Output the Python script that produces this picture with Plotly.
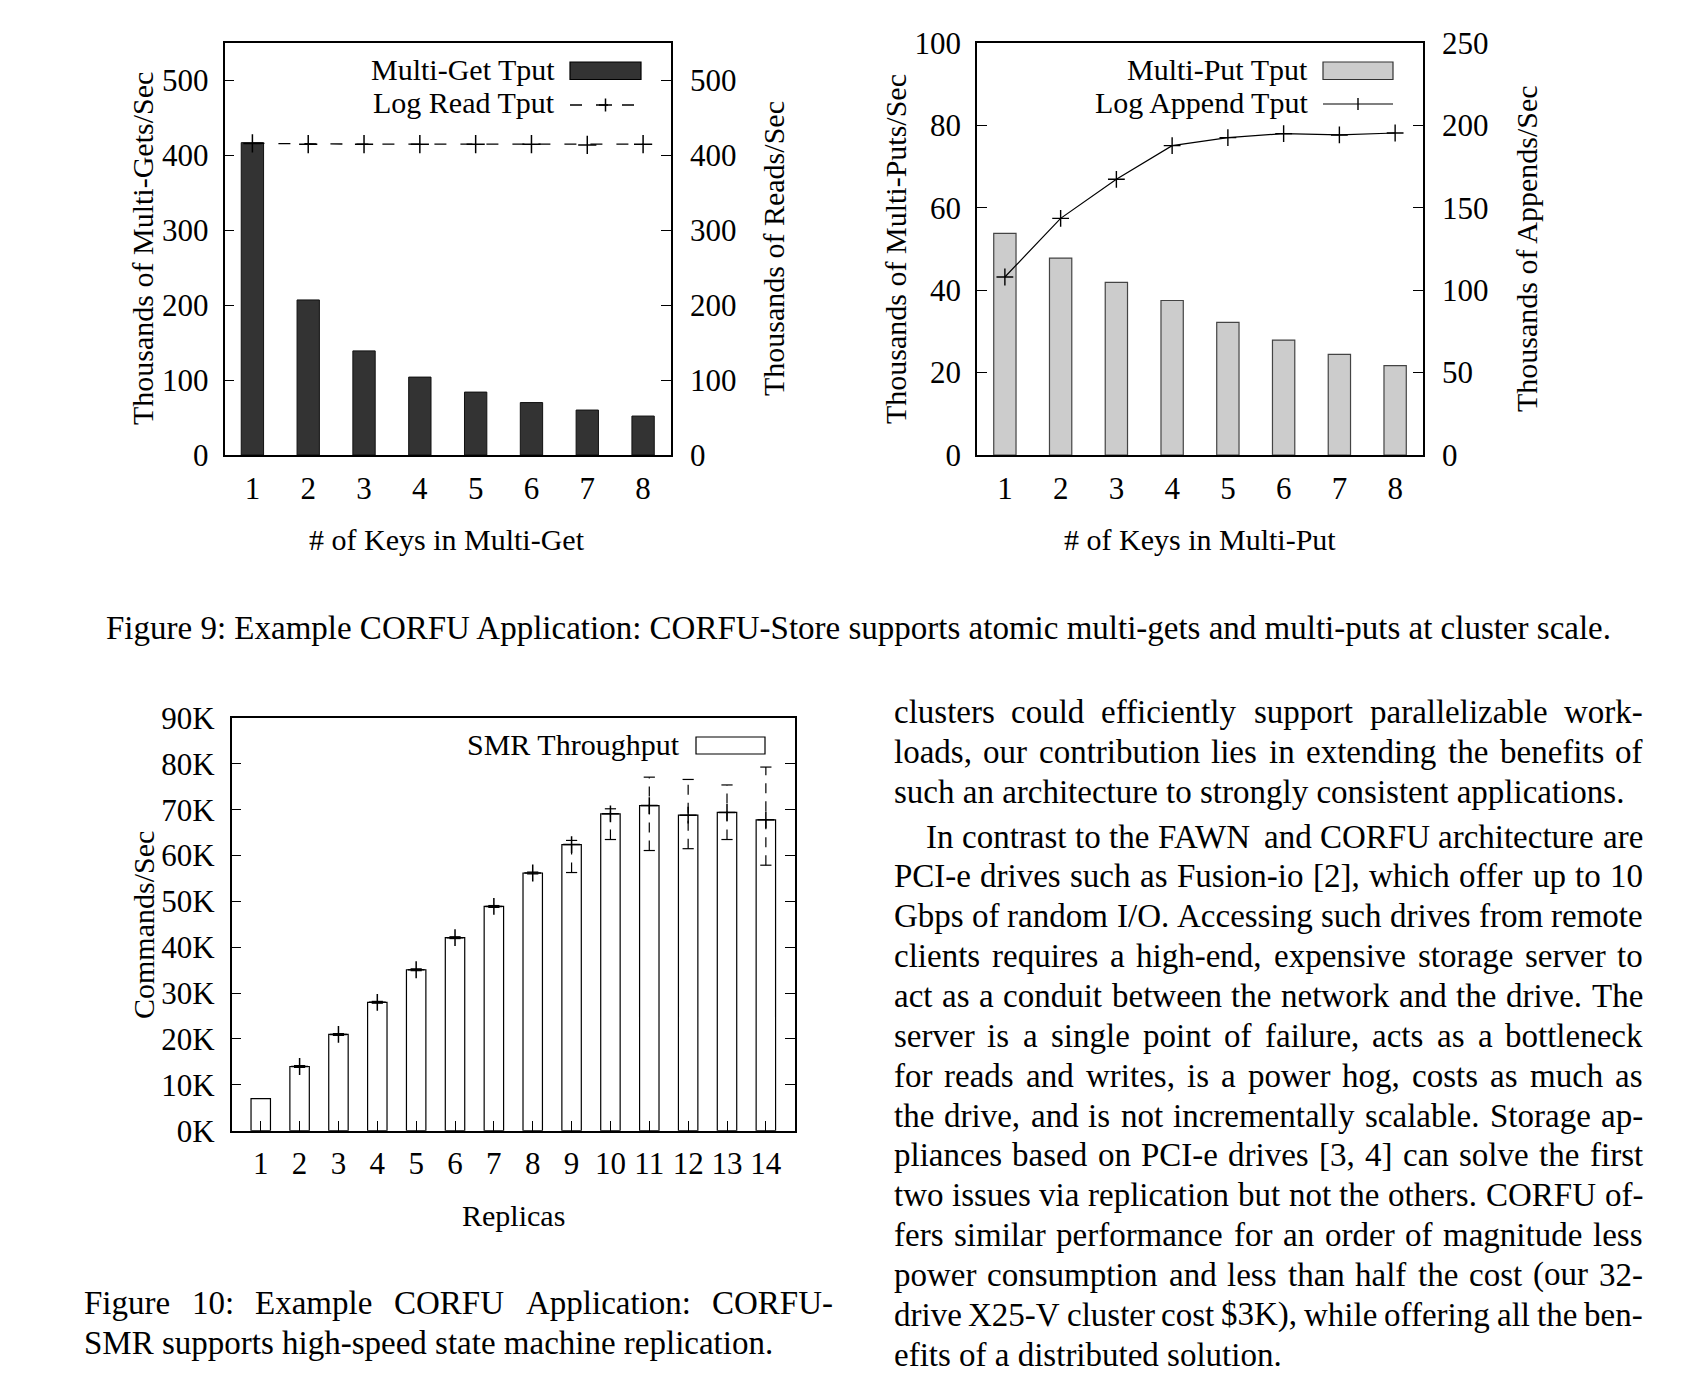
import plotly.graph_objects as go

W, H = 1684, 1380
FONT = "Liberation Serif"
FS_CHART = 30
FS_TICK = 31
FS_TEXT = 33

# ---------------- data ----------------
keys = [1, 2, 3, 4, 5, 6, 7, 8]
multiget_tput = [417, 207, 139, 104, 84, 70, 60, 52]
logread_tput = [416, 415, 415, 415, 415, 415, 414, 415]
multiput_tput = [53.8, 47.8, 41.9, 37.5, 32.2, 27.9, 24.4, 21.7]
logappend_tput = [108, 143.6, 167.3, 187.7, 192.6, 195.0, 194.2, 195.4]

replicas = list(range(1, 15))
smr_tput = [7.0, 14.0, 21.0, 28.0, 35.1, 42.1, 48.9, 56.2, 62.4, 69.1, 70.9, 68.8, 69.4, 67.8]
smr_low = [None, 13.8, 20.8, 27.8, 34.9, 41.9, 48.7, 56.0, 56.3, 63.5, 61.1, 61.5, 63.5, 57.9]
smr_high = [None, 14.2, 21.2, 28.2, 35.3, 42.3, 49.1, 56.4, 63.3, 70.2, 77.1, 76.6, 75.4, 79.3]

left_ticks_1 = [0, 100, 200, 300, 400, 500]
left_ticks_2 = [0, 20, 40, 60, 80, 100]
right_ticks_2 = [0, 50, 100, 150, 200, 250]
ticks_3 = [0, 10, 20, 30, 40, 50, 60, 70, 80, 90]

body_lines = [
    ("clusters could efficiently support parallelizable work-", True, False),
    ("loads, our contribution lies in extending the benefits of", True, False),
    ("such an architecture to strongly consistent applications.", False, False),
    ("In contrast to the FAWN and CORFU architecture are", True, True),
    ("PCI-e drives such as Fusion-io [2], which offer up to 10", True, False),
    ("Gbps of random I/O. Accessing such drives from remote", True, False),
    ("clients requires a high-end, expensive storage server to", True, False),
    ("act as a conduit between the network and the drive. The", True, False),
    ("server is a single point of failure, acts as a bottleneck", True, False),
    ("for reads and writes, is a power hog, costs as much as", True, False),
    ("the drive, and is not incrementally scalable. Storage ap-", True, False),
    ("pliances based on PCI-e drives [3, 4] can solve the first", True, False),
    ("two issues via replication but not the others. CORFU of-", True, False),
    ("fers similar performance for an order of magnitude less", True, False),
    ("power consumption and less than half the cost (our 32-", True, False),
    ("drive X25-V cluster cost $3K), while offering all the ben-", True, False),
    ("efits of a distributed solution.", False, False),
]
caption9 = "Figure 9: Example CORFU Application: CORFU-Store supports atomic multi-gets and multi-puts at cluster scale."
caption10 = ["Figure 10: Example CORFU Application: CORFU-",
             "SMR supports high-speed state machine replication."]

# ---------------- helpers ----------------
def px(x):
    return x / W

def py(y):
    return 1 - y / H

CW = {' ': 250, '!': 333, '#': 500, '$': 500, '(': 333, ')': 333, ',': 250, '-': 333, '.': 250,
      '/': 278, ':': 278, ';': 278, '[': 333, ']': 333,
      'A': 722, 'B': 667, 'C': 667, 'D': 722, 'E': 611, 'F': 556, 'G': 722, 'H': 722, 'I': 333,
      'J': 389, 'K': 722, 'L': 611, 'M': 889, 'N': 722, 'O': 722, 'P': 556, 'Q': 722, 'R': 667,
      'S': 556, 'T': 611, 'U': 722, 'V': 722, 'W': 944, 'X': 722, 'Y': 722, 'Z': 611,
      'a': 444, 'b': 500, 'c': 444, 'd': 500, 'e': 444, 'f': 333, 'g': 500, 'h': 500, 'i': 278,
      'j': 278, 'k': 500, 'l': 278, 'm': 778, 'n': 500, 'o': 500, 'p': 500, 'q': 500, 'r': 333,
      's': 389, 't': 278, 'u': 500, 'v': 500, 'w': 722, 'x': 500, 'y': 500, 'z': 444}

def tw(s, fs):
    return sum(CW.get(c, 500) for c in s) / 1000.0 * fs

annotations = []
shapes = []

def text(t, x, y, size=FS_CHART, xanchor="center", yanchor="middle", angle=0):
    annotations.append(dict(text=t, x=px(x), y=py(y), xref="paper", yref="paper",
                            xanchor=xanchor, yanchor=yanchor, showarrow=False,
                            textangle=angle, borderpad=0, borderwidth=0,
                            font=dict(family=FONT, size=size, color="black")))

def line_of_text(t, x0, x1, y, fs, justify):
    words = t.split()
    if not justify or len(words) < 2:
        text(t, x0, y, size=fs, xanchor="left")
        return
    widths = [tw(w, fs) for w in words]
    gap = (x1 - x0 - sum(widths)) / (len(words) - 1)
    x = x0
    for i, (w, wd) in enumerate(zip(words, widths)):
        if i == len(words) - 1:
            text(w, x1, y, size=fs, xanchor="right")
        else:
            text(w, x, y, size=fs, xanchor="left")
        x += wd + gap

def rect(x0, y0, x1, y1, fill, lc="black", lw=1.2):
    shapes.append(dict(type="rect", xref="paper", yref="paper", x0=px(x0), x1=px(x1),
                       y0=py(y1), y1=py(y0), fillcolor=fill, line=dict(color=lc, width=lw)))

def seg(x0, y0, x1, y1, dash="solid", lw=1.2):
    shapes.append(dict(type="line", xref="paper", yref="paper", x0=px(x0), x1=px(x1),
                       y0=py(y0), y1=py(y1), line=dict(color="black", width=lw, dash=dash)))

# ---------------- geometry ----------------
C1 = (224.5, 671, 43, 455)
C2 = (977, 1423, 43, 455)
C3 = (231.6, 795, 718, 1130.7)

tf = dict(family=FONT, size=FS_TICK, color="black")
common = dict(showgrid=False, zeroline=False, tickfont=tf, linecolor="black", linewidth=1.5,
              tickcolor="black", tickwidth=1.2, ticklen=10, automargin=False)

fig = go.Figure()

# ---- chart 1 ----
fig.add_trace(go.Bar(x=keys, y=multiget_tput, width=0.4, xaxis="x", yaxis="y",
                     marker=dict(color="#333333", line=dict(color="#111111", width=1)),
                     showlegend=False))
fig.add_trace(go.Scatter(x=keys, y=logread_tput, xaxis="x", yaxis="y2", mode="lines+markers",
                         line=dict(color="black", width=1.3, dash="12px,14px"),
                         marker=dict(symbol="cross-thin", size=13, line=dict(color="black", width=1.5)),
                         showlegend=False))

# ---- chart 2 ----
fig.add_trace(go.Bar(x=keys, y=multiput_tput, width=0.4, xaxis="x2", yaxis="y3",
                     marker=dict(color="#cccccc", line=dict(color="#444444", width=1.2)),
                     showlegend=False))
fig.add_trace(go.Scatter(x=keys, y=logappend_tput, xaxis="x2", yaxis="y4", mode="lines+markers",
                         line=dict(color="black", width=1.2),
                         marker=dict(symbol="cross-thin", size=12, line=dict(color="black", width=1.4)),
                         showlegend=False))

# ---- chart 3 ----
fig.add_trace(go.Bar(x=replicas, y=smr_tput, width=0.5, xaxis="x3", yaxis="y5",
                     marker=dict(color="white", line=dict(color="black", width=1.2)),
                     showlegend=False))
ex, ey, cx, cy, mx, my = [], [], [], [], [], []
for r, v, lo, hi in zip(replicas, smr_tput, smr_low, smr_high):
    if lo is None:
        continue
    ex += [r, r, None]
    ey += [lo, hi, None]
    cx += [r, r]
    cy += [lo, hi]
    mx.append(r)
    my.append(v)
fig.add_trace(go.Scatter(x=ex, y=ey, xaxis="x3", yaxis="y5", mode="lines",
                         line=dict(color="black", width=1.2, dash="10px,8px"), showlegend=False))
fig.add_trace(go.Scatter(x=cx, y=cy, xaxis="x3", yaxis="y5", mode="markers",
                         marker=dict(symbol="line-ew", size=8, line=dict(color="black", width=1.2)),
                         showlegend=False))
fig.add_trace(go.Scatter(x=mx, y=my, xaxis="x3", yaxis="y5", mode="markers",
                         marker=dict(symbol="cross-thin", size=12, line=dict(color="black", width=1.5)),
                         showlegend=False))

fig.update_layout(
    template="none",
    width=W, height=H, autosize=False,
    margin=dict(l=0, r=0, t=0, b=0, pad=0),
    paper_bgcolor="white", plot_bgcolor="rgba(0,0,0,0)",
    font=dict(family=FONT, size=FS_CHART, color="black"),
    showlegend=False,
    # chart 1
    xaxis=dict(domain=[px(C1[0]), px(C1[1])], anchor="y", range=[0.5, 8.5], tickvals=keys,
               ticks="", showline=True, mirror=True, ticklabelstandoff=5, **common),
    xaxis4=dict(overlaying="x", side="top", anchor="y", range=[0.5, 8.5], tickvals=keys,
                ticks="inside", showticklabels=False, showline=False, **common),
    yaxis=dict(domain=[py(C1[3]), py(C1[2])], anchor="x", range=[0, 550], tickvals=left_ticks_1,
               ticks="inside", showline=True, mirror=True, ticklabelstandoff=8, **common),
    yaxis2=dict(overlaying="y", side="right", anchor="x", range=[0, 550], tickvals=left_ticks_1,
                ticks="inside", showline=False, ticklabelstandoff=18, **common),
    # chart 2
    xaxis2=dict(domain=[px(C2[0]), px(C2[1])], anchor="y3", range=[0.5, 8.5], tickvals=keys,
                ticks="", showline=True, mirror=True, ticklabelstandoff=5, **common),
    xaxis5=dict(overlaying="x2", side="top", anchor="y3", range=[0.5, 8.5], tickvals=keys,
                ticks="inside", showticklabels=False, showline=False, **common),
    yaxis3=dict(domain=[py(C2[3]), py(C2[2])], anchor="x2", range=[0, 100], tickvals=left_ticks_2,
                ticks="inside", showline=True, mirror=True, ticklabelstandoff=8, **common),
    yaxis4=dict(overlaying="y3", side="right", anchor="x2", range=[0, 250], tickvals=right_ticks_2,
                ticks="inside", showline=False, ticklabelstandoff=18, **common),
    # chart 3
    xaxis3=dict(domain=[px(C3[0]), px(C3[1])], anchor="y5", range=[0.25, 14.75], tickvals=replicas,
                ticks="inside", showline=True, mirror=True, ticklabelstandoff=4, **common),
    yaxis5=dict(domain=[py(C3[3]), py(C3[2])], anchor="x3", range=[0, 90], tickvals=ticks_3,
                ticktext=[f"{t}K" for t in ticks_3],
                ticks="inside", showline=True, mirror="ticks", ticklabelstandoff=9, **common),
)

# ---- axis titles ----
text("# of Keys in Multi-Get", 447, 539)
text("Thousands of Multi-Gets/Sec", 143, 249, angle=-90)
text("Thousands of Reads/Sec", 774, 249, angle=-90)
text("# of Keys in Multi-Put", 1200, 539)
text("Thousands of Multi-Puts/Sec", 896, 249, angle=-90)
text("Thousands of Appends/Sec", 1527, 249, angle=-90)
text("Commands/Sec", 143, 925, angle=-90)
text("Replicas", 513, 1215)

# ---- legends ----
text("Multi-Get Tput", 555, 69, xanchor="right")
rect(570, 62, 641, 79.5, "#333333", lc="black")
text("Log Read Tput", 555, 103, xanchor="right")
seg(570, 105, 641, 105, dash="12px,14px", lw=1.3)
seg(605.5, 98.5, 605.5, 111.5, lw=1.5)
seg(599, 105, 612, 105, lw=1.5)

text("Multi-Put Tput", 1308, 69, xanchor="right")
rect(1323, 62, 1393, 79.5, "#cccccc", lc="#333333")
text("Log Append Tput", 1308, 103, xanchor="right")
seg(1323, 104, 1393, 104, lw=1.2)
seg(1358, 98, 1358, 110, lw=1.4)

text("SMR Throughput", 680, 744, xanchor="right")
rect(696, 737, 765, 754, "white", lc="black")

# ---- captions ----
text(caption9, 858, 628, size=FS_TEXT)
line_of_text(caption10[0], 83.8, 833.4, 1303, FS_TEXT, True)
line_of_text(caption10[1], 83.8, 833.4, 1342.5, FS_TEXT, False)

# ---- body text ----
COL_L, COL_R = 893.6, 1643
for i, (t, just, indent) in enumerate(body_lines):
    y = 712 + 39.85 * i if i < 3 else 836.6 + 39.85 * (i - 3)
    x0 = COL_L + (32 if indent else 0)
    line_of_text(t, x0, COL_R, y, FS_TEXT, just)

fig.update_layout(annotations=annotations, shapes=shapes)
fig.write_html("out.html", config={"displayModeBar": False},
               post_script="document.body.style.margin='0';document.body.style.overflow='hidden';")
